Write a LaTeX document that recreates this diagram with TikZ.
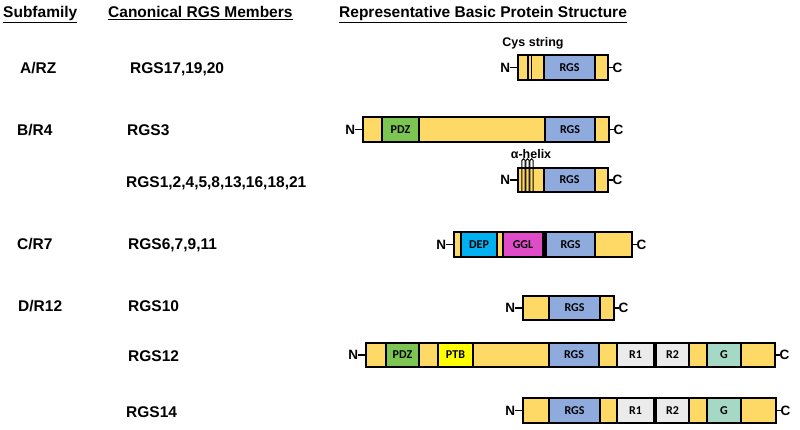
\documentclass[tikz,border=0pt]{standalone}
\usepackage{fontspec}
\setmainfont{Liberation Sans}
\newfontfamily\domfont{Carlito}
\usepackage{tikz}
\usetikzlibrary{positioning}
\definecolor{segyellow}{HTML}{FFD966}
\definecolor{rgsblue}{HTML}{8FAADC}
\definecolor{pdzgreen}{HTML}{7CC552}
\definecolor{ptbyellow}{HTML}{FFFF00}
\definecolor{depcyan}{HTML}{00B0F0}
\definecolor{gglpink}{HTML}{E04CC8}
\definecolor{repgray}{HTML}{EBEBEB}
\definecolor{gteal}{HTML}{A6D8C6}
\tikzset{
  head/.style={anchor=base west, inner sep=0pt, font=\bfseries\fontsize{15.5}{18}\selectfont},
  fam/.style={anchor=base west, inner sep=0pt, font=\bfseries\fontsize{15.5}{18}\selectfont},
  seg/.style={rectangle, draw=black, fill=#1, line width=1.7pt, minimum height=24.5pt,
    inner sep=0pt, outer sep=0pt, font=\domfont\bfseries\fontsize{12}{14}\selectfont},
  seg/.default=segyellow,
  wd/.style={minimum width=#1},
  term/.style={inner sep=0pt, outer sep=0pt, font=\bfseries\fontsize{13.5}{14}\selectfont},
  tether/.style={line width=1.9pt},
  note/.style={inner sep=0pt, font=\bfseries\fontsize{12.5}{14}\selectfont},
  loop/.style={line width=1pt},
}

\begin{document}
\begin{tikzpicture}[x=1pt, y=-1pt]
\useasboundingbox (0,0) rectangle (800,430);

% Headers
\node[head] (hfam) at (3,18) {\underline{Subfamily}};
\node[head] (hmem) at (108,18) {\underline{Canonical RGS Members}};
\node[head] (hstr) at (339,18) {\underline{Representative Basic Protein Structure}};

% Subfamilies and members
\node[fam] (frz) at (20,74) {A/RZ};
\node[fam] (mrz) at (130,74) {RGS17,19,20};
\node[fam] (fr4) at (17,135.5) {B/R4};
\node[fam] (m3) at (127,135.5) {RGS3};
\node[fam] (m4) at (126,188) {RGS1,2,4,5,8,13,16,18,21};
\node[fam] (fr7) at (17,249.5) {C/R7};
\node[fam] (m7) at (128,249.5) {RGS6,7,9,11};
\node[fam] (fr12) at (18,311.5) {D/R12};
\node[fam] (m10) at (128,311.5) {RGS10};
\node[fam] (m12) at (128,361.5) {RGS12};
\node[fam] (m14) at (126,417.5) {RGS14};

% A/RZ
\node[seg, wd=10pt, anchor=west] (rz1) at (518,67.5) {};
\node[seg, wd=3.5pt, right=0pt of rz1] (rzcys) {};
\node[seg, wd=12.5pt, right=0pt of rzcys] (rz2) {};
\node[seg=rgsblue, wd=51pt, right=0pt of rz2] (rzrgs) {RGS};
\node[seg, wd=13pt, right=0pt of rzrgs] (rz3) {};
\draw[line width=1.5pt] (rzcys.north west) -- ++(0,6.5) (rzcys.north east) -- ++(0,6.5);
\node[note] (cyslbl) at (533,43) {Cys string};
\node[term, left=8pt of rz1] (rzN) {N};
\node[term, right=4.5pt of rz3] (rzC) {C};
\draw[tether] (rzN) -- (rz1);
\draw[tether] (rz3) -- (rzC);

% RGS3
\node[seg, wd=19pt, anchor=west] (r3a) at (363,129.5) {};
\node[seg=pdzgreen, wd=37pt, right=0pt of r3a] (r3pdz) {PDZ};
\node[seg, wd=126pt, right=0pt of r3pdz] (r3b) {};
\node[seg=rgsblue, wd=50pt, right=0pt of r3b] (r3rgs) {RGS};
\node[seg, wd=14pt, right=0pt of r3rgs] (r3c) {};
\node[term, left=8pt of r3a] (r3N) {N};
\node[term, right=4.5pt of r3c] (r3C) {C};
\draw[tether] (r3N) -- (r3a);
\draw[tether] (r3c) -- (r3C);

% RGS1,2,4,...
\node[seg, wd=26pt, anchor=west] (r4h) at (518,180) {};
\node[seg=rgsblue, wd=51pt, right=0pt of r4h] (r4rgs) {RGS};
\node[seg, wd=13pt, right=0pt of r4rgs] (r4c) {};
\draw[loop] (521.8,192) -- (521.8,160.5) arc[start angle=180, end angle=0, radius=1.7pt] -- (525.2,192);
\draw[loop] (525.8,192) -- (525.8,160.5) arc[start angle=180, end angle=0, radius=1.7pt] -- (529.2,192);
\draw[loop] (529.8,192) -- (529.8,160.5) arc[start angle=180, end angle=0, radius=1.7pt] -- (533.2,192);
\node[note] (helixlbl) at (531,154) {α-helix};
\node[term, left=8pt of r4h] (r4N) {N};
\node[term, right=4.5pt of r4c] (r4C) {C};
\draw[tether] (r4N) -- (r4h);
\draw[tether] (r4c) -- (r4C);

% C/R7
\node[seg, wd=7pt, anchor=west] (r7a) at (454,244.5) {};
\node[seg=depcyan, wd=36pt, right=0pt of r7a] (r7dep) {DEP};
\node[seg, wd=6pt, right=0pt of r7dep] (r7b) {};
\node[seg=gglpink, wd=40pt, right=0pt of r7b] (r7ggl) {GGL};
\node[seg=black, wd=3pt, right=0pt of r7ggl] (r7gap) {};
\node[seg=rgsblue, wd=49pt, right=0pt of r7gap] (r7rgs) {RGS};
\node[seg, wd=37pt, right=0pt of r7rgs] (r7c) {};
\node[term, left=8pt of r7a] (r7N) {N};
\node[term, right=4.5pt of r7c] (r7C) {C};
\draw[tether] (r7N) -- (r7a);
\draw[tether] (r7c) -- (r7C);

% RGS10
\node[seg, wd=26pt, anchor=west] (r10a) at (523,308) {};
\node[seg=rgsblue, wd=51pt, right=0pt of r10a] (r10rgs) {RGS};
\node[seg, wd=14pt, right=0pt of r10rgs] (r10b) {};
\node[term, left=8pt of r10a] (r10N) {N};
\node[term, right=4.5pt of r10b] (r10C) {C};
\draw[tether] (r10N) -- (r10a);
\draw[tether] (r10b) -- (r10C);

% RGS12
\node[seg, wd=20pt, anchor=west] (r12a) at (366,355) {};
\node[seg=pdzgreen, wd=33pt, right=0pt of r12a] (r12pdz) {PDZ};
\node[seg, wd=19pt, right=0pt of r12pdz] (r12b) {};
\node[seg=ptbyellow, wd=35pt, right=0pt of r12b] (r12ptb) {PTB};
\node[seg, wd=76pt, right=0pt of r12ptb] (r12c) {};
\node[seg=rgsblue, wd=50pt, right=0pt of r12c] (r12rgs) {RGS};
\node[seg, wd=18pt, right=0pt of r12rgs] (r12d) {};
\node[seg=repgray, wd=37pt, right=0pt of r12d] (r12r1) {R1};
\node[seg=black, wd=2pt, right=0pt of r12r1] (r12gap) {};
\node[seg=repgray, wd=33pt, right=0pt of r12gap] (r12r2) {R2};
\node[seg, wd=18pt, right=0pt of r12r2] (r12e) {};
\node[seg=gteal, wd=34pt, right=0pt of r12e] (r12g) {G};
\node[seg, wd=34pt, right=0pt of r12g] (r12f) {};
\node[term, left=8pt of r12a] (r12N) {N};
\node[term, right=4.5pt of r12f] (r12C) {C};
\draw[tether] (r12N) -- (r12a);
\draw[tether] (r12f) -- (r12C);

% RGS14
\node[seg, wd=26pt, anchor=west] (r14a) at (523,410.5) {};
\node[seg=rgsblue, wd=51pt, right=0pt of r14a] (r14rgs) {RGS};
\node[seg, wd=17pt, right=0pt of r14rgs] (r14b) {};
\node[seg=repgray, wd=37pt, right=0pt of r14b] (r14r1) {R1};
\node[seg=black, wd=2pt, right=0pt of r14r1] (r14gap) {};
\node[seg=repgray, wd=33pt, right=0pt of r14gap] (r14r2) {R2};
\node[seg, wd=18pt, right=0pt of r14r2] (r14c) {};
\node[seg=gteal, wd=34pt, right=0pt of r14c] (r14g) {G};
\node[seg, wd=35pt, right=0pt of r14g] (r14d) {};
\node[term, left=8pt of r14a] (r14N) {N};
\node[term, right=4.5pt of r14d] (r14C) {C};
\draw[tether] (r14N) -- (r14a);
\draw[tether] (r14d) -- (r14C);

\end{tikzpicture}
\end{document}
